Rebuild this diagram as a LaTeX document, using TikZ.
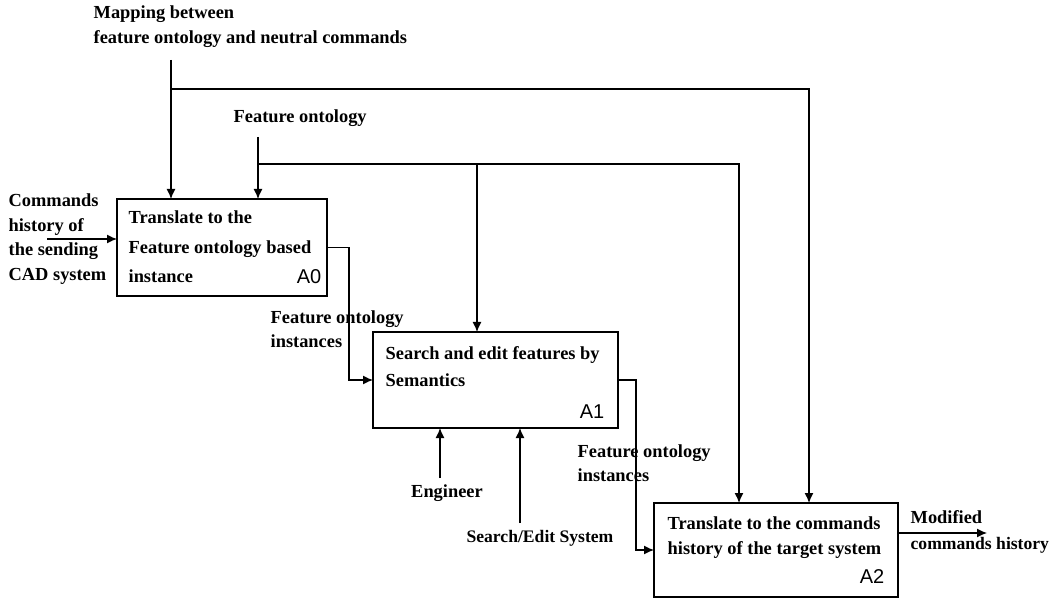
\documentclass[tikz,border=0pt]{standalone}
\usepackage{fontspec}
\setmainfont{Liberation Serif}
\newfontfamily\idfont{Liberation Sans}
\usetikzlibrary{arrows.meta}

\begin{document}
\begin{tikzpicture}[
    x=0.5pt, y=-0.5pt,
    line width=0.65pt,
    box/.style={rectangle, draw, anchor=north west, inner sep=0pt, outer sep=0pt},
    txt/.style={anchor=west, align=left, inner sep=0pt, font=\fontsize{9.2}{12.5}\selectfont\bfseries},
    small/.style={anchor=west, align=left, inner sep=0pt, font=\fontsize{8.8}{12}\selectfont\bfseries},
    boxid/.style={anchor=east, inner sep=0pt, font=\fontsize{10}{12}\selectfont\idfont},
    arr/.style={-{Latex[length=5pt, width=4.5pt]}}
]
\useasboundingbox (0,0) rectangle (1064,598);

\node [box, minimum width=105pt, minimum height=48.5pt] (a0) at (117,199) {};
\node [box, minimum width=122.5pt, minimum height=48pt] (a1) at (373,332) {};
\node [box, minimum width=122pt, minimum height=47pt] (a2) at (654,503) {};

\node [txt, font=\fontsize{9.2}{14.7}\selectfont\bfseries] (a0text) at (128,247) {Translate to the\\Feature ontology based\\instance};
\node [boxid] (a0id) at (322,277) {A0};
\node [txt, font=\fontsize{9.2}{13.5}\selectfont\bfseries] (a1text) at (385,367) {Search and edit features by\\Semantics};
\node [boxid] (a1id) at (605,412) {A1};
\node [txt] (a2text) at (667,538) {Translate to the commands\\history of the target system};
\node [boxid] (a2id) at (885,577) {A2};

\node [txt] (maplbl) at (93,27) {Mapping between\\feature ontology and neutral commands};
\node [txt] (folbl) at (233,118) {Feature ontology};
\node [txt, font=\fontsize{9.2}{12.3}\selectfont\bfseries] (cmdlbl) at (8,239) {Commands\\history of\\the sending\\CAD system};
\node [txt, font=\fontsize{9.2}{12}\selectfont\bfseries] (inst0) at (270,329) {Feature ontology\\instances};
\node [txt, font=\fontsize{9.2}{12}\selectfont\bfseries] (inst1) at (577,463) {Feature ontology\\instances};
\node [txt, anchor=center] (eng) at (447,493) {Engineer};
\node [small, anchor=center] (sesys) at (540,538) {Search/Edit System};
\node [txt] (modlbl) at (910,517) {Modified};
\node [small] (cmdhist) at (910,545) {commands history};

\coordinate (mapsrc) at (171,60);
\coordinate (mapturn) at (171,89);
\coordinate (mapend) at (809,89);
\coordinate (fosrc) at (258,137);
\coordinate (foturn) at (258,164);
\coordinate (fobranch) at (477,164);
\coordinate (foend) at (739,164);
\coordinate (cmdin) at (47,239);
\coordinate (engsrc) at (440,478);
\coordinate (sesrc) at (520,523);
\coordinate (outend) at (987,533);

\draw [arr] (mapsrc) -- (mapsrc |- a0.north);
\draw [arr] (mapturn) -- (mapend) -- (mapend |- a2.north);
\draw [arr] (fosrc) -- (fosrc |- a0.north);
\draw [arr] (foturn) -- (foend) -- (foend |- a2.north);
\draw [arr] (fobranch) -- (fobranch |- a1.north);
\draw [arr] (cmdin) -- (cmdin -| a0.west);
\draw [arr] (a0.east) -- ++(22,0) |- (a1.west);
\draw [arr] (a1.east) -- ++(18,0) |- (a2.west);
\draw [arr] (outend -| a2.east) -- (outend);
\draw [arr] (engsrc) -- (engsrc |- a1.south);
\draw [arr] (sesrc) -- (sesrc |- a1.south);
\end{tikzpicture}
\end{document}
